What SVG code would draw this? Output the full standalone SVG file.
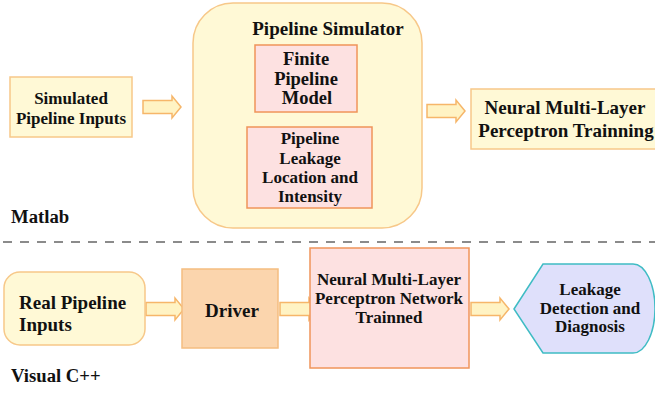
<svg xmlns="http://www.w3.org/2000/svg" width="655" height="394" viewBox="0 0 655 394" font-family="Liberation Serif, Times New Roman, serif" font-weight="bold">
<defs>
<style>
text{fill:#111;text-anchor:middle}
.y{fill:#fff9d6;stroke:#f7c889;stroke-width:1.5}
.p{fill:#fde1e1;stroke:#f0945a;stroke-width:1.5}
.d{fill:#fbd5ad;stroke:#f5bd80;stroke-width:1.5}
.h{fill:#dfe0fb;stroke:#3fbcc4;stroke-width:1.5}
.arr{fill:#fff3c4;stroke:#f6b66a;stroke-width:1.5}
.f17{font-size:17px}
.f18{font-size:18.5px}
.f19{font-size:19px}
.lab{text-anchor:start;font-size:18.7px}
</style>
<path id="ar" d="M0,-6.5 H29 V-11 L38,0 L29,11 V6.5 H0 Z"/>
</defs>
<rect x="0" y="0" width="655" height="394" fill="#ffffff"/>

<g id="connectors">
<use href="#ar" class="arr" x="143" y="107"/>
<use href="#ar" class="arr" x="427" y="111"/>
<use href="#ar" class="arr" x="146" y="309"/>
<use href="#ar" class="arr" x="280" y="309"/>
<use href="#ar" class="arr" x="471" y="309"/>
</g>

<g id="simulated-inputs">
<rect class="y" x="10" y="77" width="122" height="60"/>
<text class="f17" x="71" y="104">Simulated</text>
<text class="f17" x="71" y="124">Pipeline Inputs</text>
</g>

<g id="pipeline-simulator">
<rect class="y" x="193" y="3" width="229" height="225" rx="40" ry="40"/>
<text class="f19" x="328" y="35">Pipeline Simulator</text>
</g>

<g id="finite-model">
<rect class="p" x="255" y="45" width="102" height="67"/>
<text class="f18" x="306" y="65">Finite</text>
<text class="f18" x="306" y="85">Pipeline</text>
<text class="f18" x="307" y="104">Model</text>
</g>

<g id="leakage-location">
<rect class="p" x="247" y="127" width="125" height="81"/>
<text class="f17" x="310" y="144">Pipeline</text>
<text class="f17" x="310" y="164">Leakage</text>
<text class="f17" x="310" y="183">Location and</text>
<text class="f17" x="310" y="202">Intensity</text>
</g>

<g id="mlp-training">
<rect class="y" x="471" y="89" width="190" height="60"/>
<text class="f19" x="565" y="114">Neural Multi-Layer</text>
<text class="f19" x="566" y="137">Perceptron Trainning</text>
</g>

<g id="matlab-label">
<text class="lab" x="11" y="223">Matlab</text>
</g>

<line x1="3" y1="242" x2="655" y2="242" stroke="#666" stroke-width="1.3" stroke-dasharray="9,8"/>

<g id="real-inputs">
<rect class="y" x="4" y="272" width="141" height="73" rx="16" ry="16"/>
<text class="f19" x="19" y="309" style="text-anchor:start">Real Pipeline</text>
<text class="f19" x="19" y="331" style="text-anchor:start">Inputs</text>
</g>

<g id="driver">
<rect class="d" x="182" y="269" width="96" height="79"/>
<text class="f19" x="232" y="317">Driver</text>
</g>

<g id="mlp-trained">
<rect class="p" x="310" y="248" width="159" height="120"/>
<text class="f17" x="389" y="285">Neural Multi-Layer</text>
<text class="f17" x="389" y="304">Perceptron Network</text>
<text class="f17" x="389" y="323">Trainned</text>
</g>

<g id="leakage-detection">
<path class="h" d="M514,309 L543,264 H633 A22,44.5 0 0 1 633,353 H543 Z"/>
<text class="f17" x="590" y="295">Leakage</text>
<text class="f17" x="590" y="314">Detection and</text>
<text class="f17" x="590" y="332">Diagnosis</text>
</g>

<g id="visualcpp-label">
<text class="lab" x="11" y="382">Visual C++</text>
</g>
</svg>
